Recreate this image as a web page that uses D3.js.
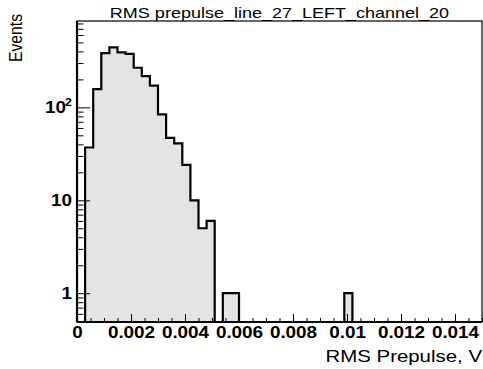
<!DOCTYPE html>
<html>
<head>
<meta charset="utf-8">
<script src="https://cdn.jsdelivr.net/npm/d3@7"></script>
<style>
  html, body { margin: 0; padding: 0; background: #fff; }
  svg text { font-family: "Liberation Sans", Arial, Helvetica, sans-serif; }
</style>
</head>
<body>
<svg id="chart" width="483" height="369"></svg>
<script>
// ---- data ----
const titleText = "RMS prepulse_line_27_LEFT_channel_20";
const xTitle = "RMS Prepulse, V";
const yTitle = "Events";
const binWidth = 0.0003;
const binStart = 0;
const counts = [0, 37, 157, 384, 442, 390, 377, 267, 217, 171,
                84, 47, 41, 24, 10, 5, 6, 0, 1, 1,
                0, 0, 0, 0, 0, 0, 0, 0, 0, 0,
                0, 0, 0, 1, 0, 0, 0, 0, 0, 0,
                0, 0, 0, 0, 0, 0, 0, 0, 0, 0];
const xMajorTicks = [0, 0.002, 0.004, 0.006, 0.008, 0.01, 0.012, 0.014];
const xTickLabels = ["0", "0.002", "0.004", "0.006", "0.008", "0.01", "0.012", "0.014"];
const xMinorTicks = [0.0005, 0.001, 0.0015, 0.0025, 0.003, 0.0035, 0.0045, 0.005, 0.0055,
                     0.0065, 0.007, 0.0075, 0.0085, 0.009, 0.0095, 0.0105, 0.011, 0.0115,
                     0.0125, 0.013, 0.0135, 0.0145, 0.015];
const yMajorTicks = [1, 10, 100];
const yMinorTicks = [0.5, 0.6, 0.7, 0.8, 0.9, 2, 3, 4, 5, 6, 7, 8, 9,
                     20, 30, 40, 50, 60, 70, 80, 90, 200, 300, 400, 500, 600, 700, 800];
const xDomain = [0, 0.015];
const yDomain = [0.49, 850];

// ---- layout ----
const L = 77, R = 482, T = 21, B = 322;
const STRETCH = 1.18;  // reference glyphs are horizontally wider
const svg = d3.select("#chart");

function stretch(sel, f) {
  sel.each(function () {
    const w = this.getComputedTextLength();
    if (w > 0) d3.select(this).attr("textLength", w * (f || STRETCH)).attr("lengthAdjust", "spacingAndGlyphs");
  });
}

const x = d3.scaleLinear().domain(xDomain).range([L, R]);
const y = d3.scaleLog().domain(yDomain).range([B, T]);

// histogram step path
const pts = [[x(binStart), B]];
counts.forEach((c, i) => {
  const x0 = x(binStart + i * binWidth), x1 = x(binStart + (i + 1) * binWidth);
  const yy = c > 0 ? y(c) : B;
  pts.push([x0, yy], [x1, yy]);
});
pts.push([x(binStart + counts.length * binWidth), B]);
const line = d3.line();

svg.append("path")
  .attr("d", line(pts) + "Z")
  .attr("fill", "#e4e4e4")
  .attr("stroke", "none");
svg.append("path")
  .attr("d", line(pts))
  .attr("fill", "none")
  .attr("stroke", "#000")
  .attr("stroke-width", 2.2)
  .attr("stroke-linejoin", "miter");

// frame
svg.append("rect")
  .attr("x", L).attr("y", T).attr("width", R - L).attr("height", B - T)
  .attr("fill", "none").attr("stroke", "#000").attr("stroke-width", 1.2);

// x axis
const gx = svg.append("g").attr("transform", `translate(0,${B})`);
gx.call(d3.axisBottom(x).tickValues(xMinorTicks).tickSize(-4).tickFormat(""))
  .call(g => g.select(".domain").remove());
gx.append("g").call(d3.axisBottom(x).tickValues(xMajorTicks).tickSize(-8)
    .tickFormat((d, i) => xTickLabels[i]))
  .call(g => g.select(".domain").remove())
  .call(g => g.selectAll("text")
      .attr("y", 16).attr("dy", 0)
      .attr("font-size", 16).attr("font-weight", "bold")
      .attr("fill", "#000")
      .style("font-family", "'Liberation Sans', Arial, sans-serif")
      .call(stretch));
gx.selectAll("line").attr("stroke", "#000");
svg.append("line").attr("x1", L).attr("x2", R).attr("y1", B).attr("y2", B)
  .attr("stroke", "#000").attr("stroke-width", 2.2);

// y axis
const gy = svg.append("g").attr("transform", `translate(${L},0)`);
gy.call(d3.axisLeft(y).tickValues(yMinorTicks).tickSize(-6.5).tickFormat(""))
  .call(g => g.select(".domain").remove());
gy.append("g").call(d3.axisLeft(y).tickValues(yMajorTicks).tickSize(-13).tickFormat(""))
  .call(g => g.select(".domain").remove());
gy.selectAll("line").attr("stroke", "#000");
svg.append("line").attr("x1", L).attr("x2", L).attr("y1", T).attr("y2", B)
  .attr("stroke", "#000").attr("stroke-width", 2.2);

// y tick labels (log: 1, 10, 10^2)
const ylab = svg.append("g").attr("font-size", 16).attr("font-weight", "bold").attr("fill", "#000");
yMajorTicks.forEach(v => {
  const e = Math.round(Math.log10(v));
  if (e < 2) {
    ylab.append("text")
      .attr("x", L - 5).attr("y", y(v) + 6)
      .attr("text-anchor", "end")
      .text(String(v)).call(stretch);
  } else {
    ylab.append("text")
      .attr("x", L - 5).attr("y", y(v) - 1)
      .attr("text-anchor", "end")
      .attr("font-size", 10.5)
      .text(String(e)).call(stretch);
    ylab.append("text")
      .attr("x", L - 11).attr("y", y(v) + 6)
      .attr("text-anchor", "end")
      .text("10").call(stretch);
  }
});

// titles
svg.append("text")
  .attr("x", (L + R) / 2).attr("y", 18)
  .attr("text-anchor", "middle")
  .attr("font-size", 15).attr("fill", "#000")
  .text(titleText).call(stretch, 1.2);

svg.append("text")
  .attr("x", R).attr("y", 362)
  .attr("text-anchor", "end")
  .attr("font-size", 17).attr("fill", "#000")
  .text(xTitle).call(stretch, 1.2);

svg.append("text")
  .attr("transform", `translate(22,14) rotate(-90)`)
  .attr("text-anchor", "end")
  .attr("font-size", 18.5).attr("fill", "#000")
  .attr("textLength", 48).attr("lengthAdjust", "spacingAndGlyphs")
  .text(yTitle);
</script>
</body>
</html>
